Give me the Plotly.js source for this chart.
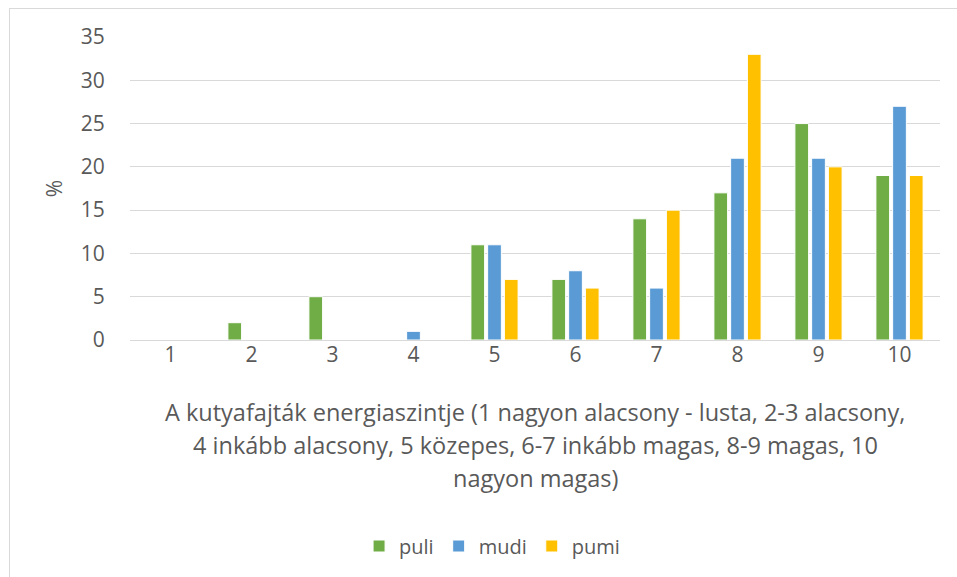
<!DOCTYPE html>
<html>
<head>
<meta charset="utf-8">
<script src="https://cdn.plot.ly/plotly-3.0.1.min.js"></script>
<style>
  html, body { margin: 0; padding: 0; background: #fff; overflow: hidden; }
  #wrap { position: relative; width: 957px; height: 577px; }
  #chart { width: 957px; height: 577px; }
  #frame { position: absolute; left: 9px; top: 8px; width: 1000px; height: 1000px;
           border: 1px solid #d9d9d9; pointer-events: none; }
</style>
</head>
<body>
<div id="wrap">
  <div id="chart"></div>
  <div id="frame"></div>
</div>
<script>
const categories = ["1", "2", "3", "4", "5", "6", "7", "8", "9", "10"];
const puli = [0, 2, 5, 0, 11, 7, 14, 17, 25, 19];
const mudi = [0, 0, 0, 1, 11, 8, 6, 21, 21, 27];
const pumi = [0, 0, 0, 0, 7, 6, 15, 33, 20, 19];
const seriesNames = ["puli", "mudi", "pumi"];
const yTitle = "%";
const xTitleLines = [
  "A kutyafajták energiaszintje (1 nagyon alacsony - lusta, 2-3 alacsony,",
  "4 inkább alacsony, 5 közepes, 6-7 inkább magas, 8-9 magas, 10",
  "nagyon magas)"
];

const colors = ["#70AD47", "#5B9BD5", "#FFC000"];
const font = "Open Sans, Lato, sans-serif";
const txt = "#595959";

const traces = [puli, mudi, pumi].map((vals, i) => ({
  type: "bar",
  name: seriesNames[i],
  x: categories,
  y: vals,
  marker: { color: colors[i], line: { color: "#ffffff", width: 1 } },
  hoverinfo: "x+y+name"
}));

const linePix = [412, 445, 478];
const plotTop = 37, plotBottom = 340;
const annotations = xTitleLines.map((t, i) => ({
  text: t,
  xref: "paper", yref: "paper",
  x: 0.5, y: (plotBottom - linePix[i]) / (plotBottom - plotTop),
  xanchor: "center", yanchor: "middle",
  showarrow: false,
  font: { family: font, size: 23.5, color: txt }
}));

const layout = {
  width: 957, height: 577,
  margin: { l: 130, r: 17, t: 37, b: 237, pad: 0 },
  paper_bgcolor: "#ffffff",
  plot_bgcolor: "#ffffff",
  barmode: "group",
  bargap: 0.38,
  bargroupgap: 0.18,
  font: { family: font, size: 20, color: txt },
  showlegend: true,
  legend: {
    orientation: "h",
    x: 0.447, xanchor: "center",
    y: (plotBottom - 546) / (plotBottom - plotTop), yanchor: "middle",
    font: { family: font, size: 20, color: txt },
    traceorder: "normal",
    itemwidth: 30
  },
  xaxis: {
    type: "category",
    showline: false,
    showgrid: false,
    zeroline: false,
    ticks: "",
    tickfont: { family: font, size: 21, color: txt },
    fixedrange: true
  },
  yaxis: {
    range: [0, 35],
    dtick: 5,
    tick0: 0,
    showline: false,
    showgrid: true,
    gridcolor: "#d9d9d9",
    gridwidth: 1,
    zeroline: true,
    zerolinecolor: "#d9d9d9",
    zerolinewidth: 1,
    ticks: "outside",
    ticklen: 20,
    tickcolor: "rgba(0,0,0,0)",
    tickfont: { family: font, size: 21, color: txt },
    title: { text: yTitle, font: { family: font, size: 21, color: txt }, standoff: 12 },
    fixedrange: true
  },
  annotations: annotations
};

Plotly.newPlot("chart", traces, layout, { displayModeBar: false, staticPlot: true });
</script>
</body>
</html>
